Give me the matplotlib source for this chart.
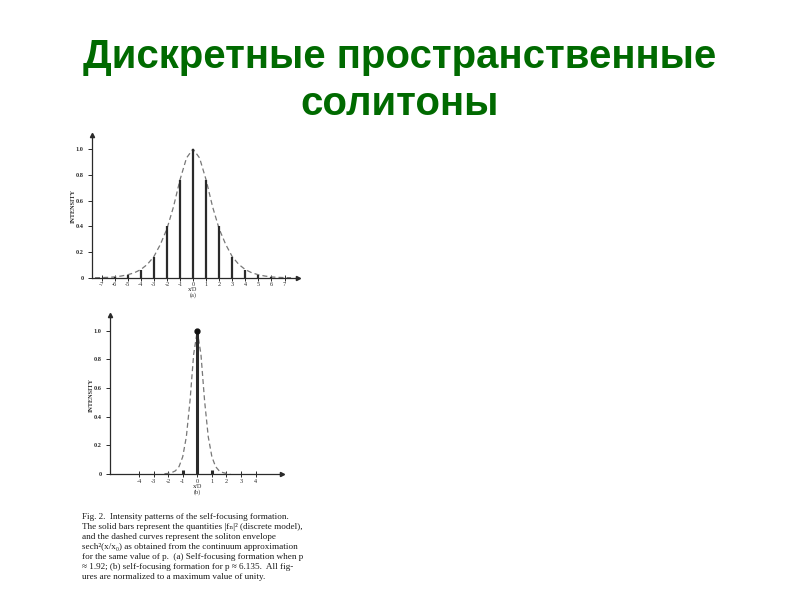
import matplotlib
matplotlib.use("Agg")
import matplotlib.pyplot as plt

# --- данные (a): дискретная модель и огибающая sech^2
bars_a_x = [-7, -6, -5, -4, -3, -2, -1, 0, 1, 2, 3, 4, 5, 6, 7]
bars_a_y = [0.003, 0.008, 0.025, 0.065, 0.165, 0.40, 0.76, 1.0,
            0.76, 0.40, 0.165, 0.065, 0.025, 0.008, 0.003]
curve_a_x = [-7.5, -7.0, -6.5, -6.0, -5.5, -5.0, -4.5, -4.0, -3.5, -3.0,
             -2.5, -2.0, -1.5, -1.0, -0.5, 0.0, 0.5, 1.0, 1.5, 2.0, 2.5,
             3.0, 3.5, 4.0, 4.5, 5.0, 5.5, 6.0, 6.5, 7.0, 7.5]
curve_a_y = [0.002, 0.003, 0.005, 0.008, 0.015, 0.025, 0.04, 0.065, 0.105,
             0.165, 0.26, 0.38, 0.55, 0.76, 0.93, 1.0, 0.93, 0.76, 0.55,
             0.38, 0.26, 0.165, 0.105, 0.065, 0.04, 0.025, 0.015, 0.008,
             0.005, 0.003, 0.002]
ticks_a = [-7, -6, -5, -4, -3, -2, -1, 0, 1, 2, 3, 4, 5, 6, 7]

# --- данные (b)
bars_b_x = [-1, 0, 1]
bars_b_y = [0.025, 1.0, 0.025]
curve_b_x = [-2.25, -2.0, -1.75, -1.5, -1.25, -1.0, -0.75, -0.5, -0.25, 0.0,
             0.25, 0.5, 0.75, 1.0, 1.25, 1.5, 1.75, 2.0, 2.25]
curve_b_y = [0.002, 0.004, 0.01, 0.022, 0.052, 0.12, 0.26, 0.51, 0.835, 1.0,
             0.835, 0.51, 0.26, 0.12, 0.052, 0.022, 0.01, 0.004, 0.002]
ticks_b = [-4, -3, -2, -1, 0, 1, 2, 3, 4]

y_ticks = [0, 0.2, 0.4, 0.6, 0.8, 1.0]
y_tick_labels = ["0", "0.2", "0.4", "0.6", "0.8", "1.0"]

title_lines = ["Дискретные пространственные", "солитоны"]
caption = [
    "Fig. 2.  Intensity patterns of the self-focusing formation.",
    "The solid bars represent the quantities |f\u2099|\u00b2 (discrete model),",
    "and the dashed curves represent the soliton envelope",
    "sech\u00b2(x/x\u2080) as obtained from the continuum approximation",
    "for the same value of p.  (a) Self-focusing formation when p",
    "\u2248 1.92; (b) self-focusing formation for p \u2248 6.135.  All fig-",
    "ures are normalized to a maximum value of unity.",
]

ink = "#2a2a2a"
serif = ["Liberation Serif", "DejaVu Serif"]

fig = plt.figure(figsize=(8, 6), dpi=100)
fig.patch.set_facecolor("white")

# заголовок
fig.text(0.5, 0.886, title_lines[0], ha="center", va="baseline",
         fontsize=29, fontweight="bold", color="#006a00",
         family="Liberation Sans")
fig.text(0.5, 0.808, title_lines[1], ha="center", va="baseline",
         fontsize=29, fontweight="bold", color="#006a00",
         family="Liberation Sans")


def style_axes(ax, ticks, xlim, ylim, tick_w):
    ax.set_xlim(*xlim)
    ax.set_ylim(*ylim)
    for s in ["top", "right"]:
        ax.spines[s].set_visible(False)
    for s in ["left", "bottom"]:
        ax.spines[s].set_color(ink)
        ax.spines[s].set_linewidth(0.9)
    ax.set_xticks(ticks)
    ax.set_xticklabels([str(t) for t in ticks],
                       family=serif, fontsize=4.5, color=ink)
    ax.set_yticks(y_ticks)
    ax.set_yticklabels(y_tick_labels, family=serif, fontsize=4.5,
                       fontweight="bold", color=ink)
    ax.tick_params(axis="x", direction="inout", length=tick_w, width=0.7,
                   color=ink, pad=1.0)
    ax.tick_params(axis="y", direction="out", length=3, width=0.7,
                   color=ink, pad=3)
    ax.plot(1, 0, ">", color=ink, markersize=3, transform=ax.transAxes,
            clip_on=False)
    ax.plot(0, 1, "^", color=ink, markersize=3, transform=ax.transAxes,
            clip_on=False)
    ax.set_ylabel("INTENSITY", family=serif, fontsize=4.5, fontweight="bold",
                  color=ink, labelpad=0)


# (a)
ax1 = fig.add_axes([0.115, 0.5367, 0.2575, 0.2383])
ax1.plot(curve_a_x, curve_a_y, linestyle=(0, (4, 2.5)), color="#777777",
         linewidth=0.9)
ax1.vlines(bars_a_x, 0, bars_a_y, color=ink, linewidth=1.6)
style_axes(ax1, ticks_a, (-7.73, 8.03), (0, 1.108), 4)
fig.text(0.2413, 1 - 289.5 / 600, "x/D", ha="center", va="center",
         family=serif, fontsize=4.5, color=ink)
fig.text(0.2413, 1 - 295.5 / 600, "(a)", ha="center", va="center",
         family=serif, fontsize=4.5, color=ink)

# (b)
ax2 = fig.add_axes([0.1375, 0.21, 0.2146, 0.265])
ax2.plot(curve_b_x, curve_b_y, linestyle=(0, (4, 2.5)), color="#777777",
         linewidth=0.9)
ax2.vlines(bars_b_x, 0, bars_b_y, color=ink, linewidth=2.2)
ax2.plot([0], [1.0], "o", color="#111111", markersize=3.5)
style_axes(ax2, ticks_b, (-5.98, 5.78), (0, 1.11), 5)
fig.text(0.2466, 1 - 486 / 600, "x/D", ha="center", va="center",
         family=serif, fontsize=4.5, color=ink)
fig.text(0.2466, 1 - 492.5 / 600, "(b)", ha="center", va="center",
         family=serif, fontsize=4.5, color=ink)

# подпись
for i, line in enumerate(caption):
    fig.text(0.1025, 1 - (517 + 10 * i) / 600, line, ha="left", va="center",
             family=serif, fontsize=6.6, color="#1a1a1a")

plt.savefig("out.png", dpi=100, facecolor="white")
